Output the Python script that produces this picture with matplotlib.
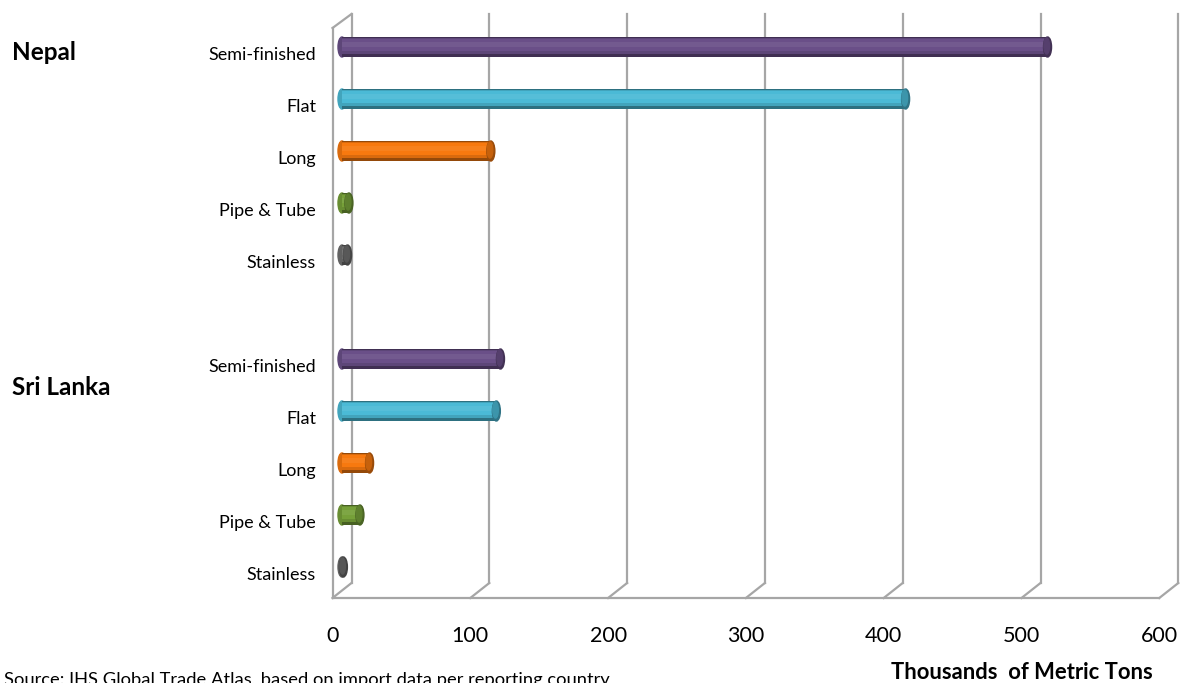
import matplotlib
matplotlib.use("Agg")
import matplotlib.pyplot as plt
from matplotlib.patches import Ellipse
import matplotlib.colors as mcolors
import numpy as np

# ---------------- data ----------------
countries = ["Nepal", "Sri Lanka"]
products = ["Semi-finished", "Flat", "Long", "Pipe & Tube", "Stainless"]
nepal_values = [512, 409, 108, 5, 4]          # thousands of metric tons
srilanka_values = [115, 112, 20, 13, 1]
x_ticks = [0, 100, 200, 300, 400, 500, 600]
x_title = "Thousands  of Metric Tons"
source_note = "Source: IHS Global Trade Atlas, based on import data per reporting country"
product_colors = ["#6A4F88", "#4BBAD6", "#F7790F", "#76A039", "#6E6E6E"]

# ---------------- layout ----------------
plt.rcParams['font.family'] = ['Lato', 'DejaVu Sans']
W, H = 1186, 683
fig = plt.figure(figsize=(W / 100, H / 100), dpi=100)
ax = fig.add_axes([0, 0, 1, 1])
ax.set_axis_off()

px_per_unit = 1.378
x0_px = 342.0
y0_px, slot_px = 47.0, 52.0
ax.set_xlim(-x0_px / px_per_unit, (W - x0_px) / px_per_unit)
ax.set_ylim((H - y0_px) / slot_px, -y0_px / slot_px)

dx = 9.5 / px_per_unit     # half depth offset in x units
dy = 7.0 / slot_px         # half depth offset in slot units
top_front, top_back = (28 - y0_px) / slot_px, (14 - y0_px) / slot_px
bot_front, bot_back = (598 - y0_px) / slot_px, (583 - y0_px) / slot_px
gcol = "#A6A6A6"
lw = 1.6

# back wall gridlines and floor
for v in x_ticks:
    ax.plot([v + dx, v + dx], [top_back, bot_back], color=gcol, lw=lw, zorder=1)
    ax.plot([v - dx, v + dx], [bot_front, bot_back], color=gcol, lw=lw, zorder=1)
ax.plot([x_ticks[0] - dx, x_ticks[-1] - dx], [bot_front, bot_front], color=gcol, lw=lw, zorder=1)
# left wall
ax.plot([-dx, -dx], [top_front, bot_front], color=gcol, lw=lw, zorder=1)
ax.plot([-dx, dx], [top_front, top_back], color=gcol, lw=lw, zorder=1)

# ---------------- bars ----------------
slots_nepal = np.arange(len(products))
slots_sl = np.arange(len(products)) + len(products) + 1
bh = 20 / slot_px
cap_w = 8 / px_per_unit


def shade(c, f):
    r, g, b = mcolors.to_rgb(c)
    if f < 1:
        return (r * f, g * f, b * f)
    f = f - 1
    return (r + (1 - r) * f, g + (1 - g) * f, b + (1 - b) * f)


for slots, vals in [(slots_nepal, nepal_values), (slots_sl, srilanka_values)]:
    for s, v, c in zip(slots, vals, product_colors):
        # body layers (cylinder look)
        ax.barh(s, v, height=bh, color=shade(c, 0.6), zorder=3)
        ax.barh(s - 0.05 * bh, v, height=0.8 * bh, color=shade(c, 0.88), zorder=4)
        ax.barh(s - 0.1 * bh, v, height=0.6 * bh, color=c, zorder=5)
        ax.barh(s - 0.15 * bh, v, height=0.25 * bh, color=shade(c, 1.06), zorder=6)
        # left cap
        ax.add_patch(Ellipse((0, s), cap_w, bh, color=shade(c, 0.88), zorder=2.9))
        # right end cap
        ax.add_patch(Ellipse((v, s), cap_w, bh, color=shade(c, 0.62), zorder=7))
        ax.add_patch(Ellipse((v - 0.1 * cap_w, s - 0.05 * bh), cap_w * 0.7, bh * 0.8,
                             color=shade(c, 0.8), zorder=7.1))

# ---------------- text ----------------
lab_x = (316 - x0_px) / px_per_unit
for slots in (slots_nepal, slots_sl):
    for s, p in zip(slots, products):
        ax.text(lab_x, s + 0.16, p, ha="right", va="center", fontsize=13, color="#000000")

grp_x = (12 - x0_px) / px_per_unit
ax.text(grp_x, (52 - y0_px) / slot_px, countries[0], ha="left", va="center",
        fontsize=17.5, fontweight="bold")
ax.text(grp_x, (387 - y0_px) / slot_px, countries[1], ha="left", va="center",
        fontsize=17.5, fontweight="bold")

tick_y = (636 - y0_px) / slot_px
for v in x_ticks:
    ax.text(v - dx, tick_y, str(v), ha="center", va="center", fontsize=15.5)

ax.text((1022 - x0_px) / px_per_unit, (672 - y0_px) / slot_px, x_title,
        ha="center", va="center", fontsize=15.8, fontweight="bold")
ax.text((4 - x0_px) / px_per_unit, (680 - y0_px) / slot_px, source_note,
        ha="left", va="center", fontsize=13.2)

fig.savefig("out.png", dpi=100)
